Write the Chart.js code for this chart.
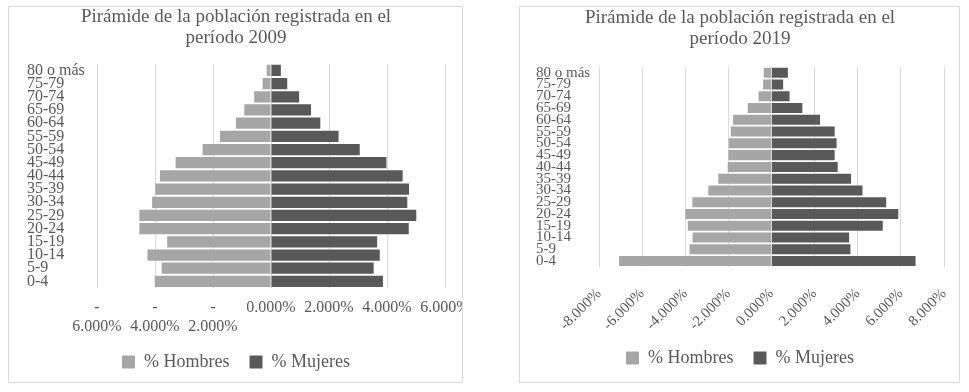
<!DOCTYPE html>
<html>
<head>
<meta charset="utf-8">
<script src="https://cdn.jsdelivr.net/npm/chart.js@4.4.0/dist/chart.umd.min.js"></script>
<style>
  body { margin: 0; background: #fff; width: 969px; height: 392px; position: relative; overflow: hidden; }
  .frame { position: absolute; border: 1px solid #d9d9d9; background: #fff; overflow: hidden; }
  #f1 { left: 8px; top: 6px; width: 453px; height: 375px; }
  #f2 { left: 519px; top: 6px; width: 439px; height: 375px; }
</style>
</head>
<body>
<div class="frame" id="f1"><canvas id="c2009" width="453" height="375"></canvas></div>
<div class="frame" id="f2"><canvas id="c2019" width="439" height="375"></canvas></div>
<script>
// age groups, top to bottom
const ageGroups = ['80 o más', '75-79', '70-74', '65-69', '60-64', '55-59', '50-54', '45-49',
  '40-44', '35-39', '30-34', '25-29', '20-24', '15-19', '10-14', '5-9', '0-4'];

// % of population, 2009
const hombres2009 = [0.15, 0.29, 0.58, 0.92, 1.21, 1.76, 2.36, 3.29, 3.83, 3.99, 4.10, 4.54, 4.54, 3.58, 4.26, 3.77, 4.01];
const mujeres2009 = [0.34, 0.56, 0.97, 1.38, 1.70, 2.33, 3.06, 3.98, 4.54, 4.76, 4.70, 5.01, 4.75, 3.66, 3.75, 3.54, 3.86];

// % of population, 2019
const hombres2019 = [0.36, 0.39, 0.60, 1.10, 1.78, 1.89, 1.98, 2.00, 2.03, 2.47, 2.93, 3.67, 3.99, 3.88, 3.66, 3.80, 7.07];
const mujeres2019 = [0.76, 0.54, 0.84, 1.43, 2.25, 2.93, 3.02, 2.93, 3.07, 3.69, 4.22, 5.32, 5.88, 5.16, 3.60, 3.66, 6.68];

const ticks2009 = [-6, -4, -2, 0, 2, 4, 6];
const ticks2019 = [-8, -6, -4, -2, 0, 2, 4, 6, 8];

const serif = 'Liberation Serif';
const textColor = '#595959';

function pyramid(id, year, hombres, mujeres, tickVals, opts) {
  new Chart(id, {
    type: 'bar',
    data: {
      labels: ageGroups,
      datasets: [
        { label: '% Hombres', data: hombres.map(v => -v), backgroundColor: '#a6a6a6',
          barPercentage: 0.85, categoryPercentage: 1 },
        { label: '% Mujeres', data: mujeres, backgroundColor: '#595959',
          barPercentage: 0.85, categoryPercentage: 1 }
      ]
    },
    options: {
      indexAxis: 'y',
      responsive: false,
      animation: false,
      layout: { padding: opts.padding },
      plugins: {
        title: {
          display: true,
          text: ['Pirámide de la población registrada en el', 'período ' + year],
          color: textColor,
          font: { family: serif, size: 19, weight: 'normal', lineHeight: 1.1 },
          padding: opts.titlePad
        },
        legend: {
          position: 'bottom',
          labels: {
            color: textColor, boxWidth: 13, boxHeight: 13, padding: 20,
            font: { family: serif, size: 18 }
          }
        },
        tooltip: { enabled: false }
      },
      scales: {
        x: {
          stacked: true,
          min: tickVals[0],
          max: tickVals[tickVals.length - 1],
          afterBuildTicks: (scale) => { scale.ticks = tickVals.map(v => ({ value: v })); },
          afterFit: (scale) => { scale.paddingLeft = 0; scale.paddingRight = 0; scale.height = opts.xHeight; },
          grid: { color: '#d9d9d9', drawTicks: false },
          border: { display: false },
          ticks: {
            color: textColor,
            font: { family: serif, size: opts.tickSize },
            padding: opts.tickPad,
            autoSkip: false,
            minRotation: opts.rotation,
            maxRotation: opts.rotation,
            callback: opts.tickFormat
          }
        },
        y: {
          stacked: true,
          afterFit: (scale) => { scale.width = opts.yWidth; },
          grid: { display: false, drawTicks: false },
          border: { display: false },
          ticks: {
            color: textColor,
            font: { family: serif, size: opts.labelSize, lineHeight: 1 },
            crossAlign: 'far',
            autoSkip: false,
            padding: 0
          }
        }
      }
    }
  });
}

pyramid('c2009', 2009, hombres2009, mujeres2009, ticks2009, {
  padding: { left: 18, right: 17, top: 0, bottom: 1 },
  titlePad: { top: 0, bottom: 15 },
  xHeight: 45,
  yWidth: 70,
  tickSize: 16,
  labelSize: 16,
  tickPad: 10,
  rotation: 0,
  tickFormat: (v) => v < 0 ? ['-', Math.abs(v).toFixed(3) + '%'] : v.toFixed(3) + '%'
});

pyramid('c2019', 2019, hombres2019, mujeres2019, ticks2019, {
  padding: { left: 16, right: 15, top: 0, bottom: 5 },
  titlePad: { top: 1, bottom: 17 },
  xHeight: 62,
  yWidth: 63,
  tickSize: 15,
  labelSize: 15,
  tickPad: 18,
  rotation: 45,
  tickFormat: (v) => v.toFixed(3) + '%'
});
</script>
</body>
</html>
